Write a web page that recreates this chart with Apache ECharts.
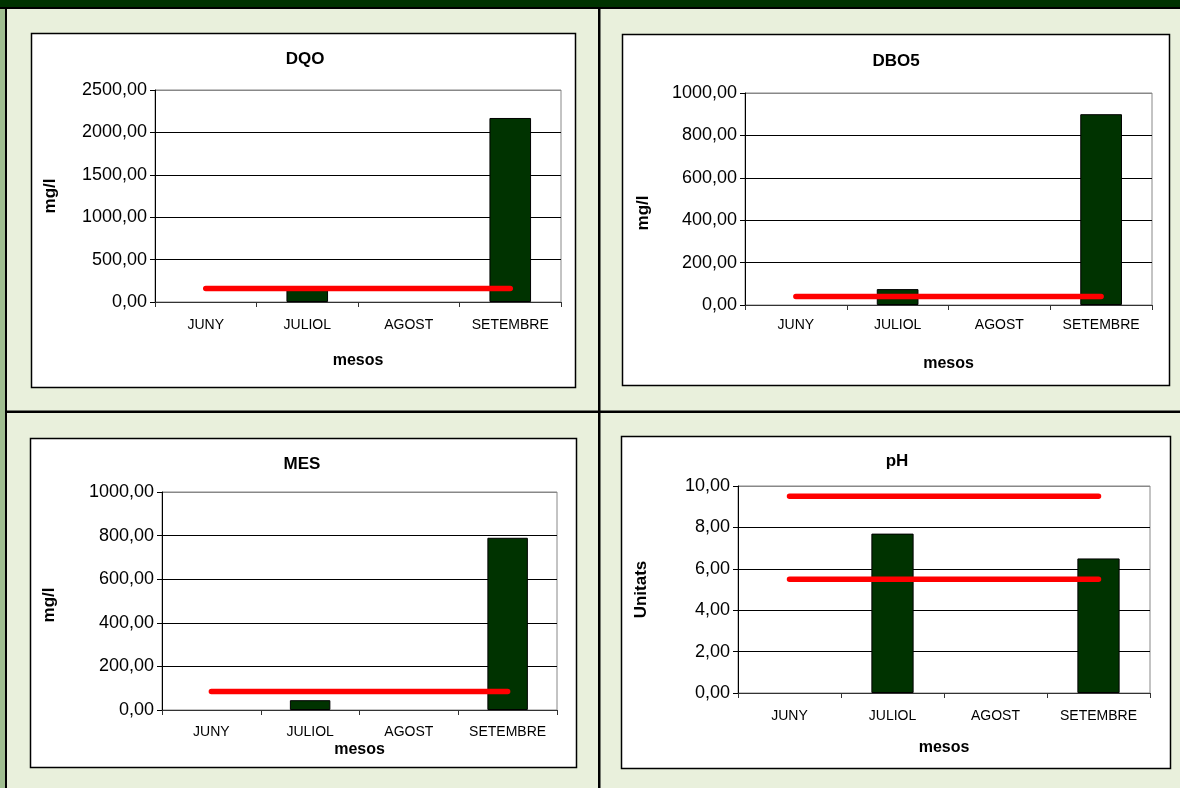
<!DOCTYPE html>
<html>
<head>
<meta charset="utf-8">
<script src="https://cdn.jsdelivr.net/npm/echarts@6/dist/echarts.min.js"></script>
<style>
html,body{margin:0;padding:0;background:#e9f0dc;}
#c{width:1180px;height:788px;}
</style>
</head>
<body>
<div id="c"></div>
<script>
// ---- data ----
const categories = ['JUNY', 'JULIOL', 'AGOST', 'SETEMBRE'];
const titles = ['DQO', 'DBO5', 'MES', 'pH'];
const yNames = ['mg/l', 'mg/l', 'mg/l', 'Unitats'];
const xName = 'mesos';
const dqoValues = [null, 140, null, 2170];
const dqoLimit = [160, 160, 160, 160];
const dbo5Values = [null, 75, null, 900];
const dbo5Limit = [40, 40, 40, 40];
const mesValues = [null, 45, null, 790];
const mesLimit = [85, 85, 85, 85];
const phValues = [null, 7.7, null, 6.5];
const phLimitHigh = [9.5, 9.5, 9.5, 9.5];
const phLimitLow = [5.5, 5.5, 5.5, 5.5];
const yMax = [2500, 1000, 1000, 10];
const yStep = [500, 200, 200, 2];

// ---- layout ----
const FONT = '"Liberation Sans", Arial, sans-serif';
const grids = [
  {left: 155, top: 90, width: 406, height: 212},
  {left: 745, top: 93, width: 407, height: 212},
  {left: 162, top: 492, width: 395, height: 218},
  {left: 738, top: 486, width: 412, height: 207}
];
const boxes = [
  [31, 33, 575, 387],
  [622, 34, 1169, 385],
  [30, 438, 576, 767],
  [621, 436, 1170, 768]
];
const titlePos = [[300, 46], [891, 48], [297, 451], [892, 448]];
const labelMargin = [16, 13, 15, 16];
const nameGapX = [51, 51, 32, 47];
const nameGapY = [96, 93, 104, 88];
const nameShiftY = [0, 28, 8, 0];

const chart = echarts.init(document.getElementById('c'), null, {renderer: 'canvas'});

const graphic = [
  {type: 'rect', shape: {x: 0, y: 0, width: 1180, height: 788}, style: {fill: '#e9f0dc'}, z: -10},
  {type: 'rect', shape: {x: 0, y: 0, width: 5, height: 788}, style: {fill: '#9fbd8f'}, z: -9},
  {type: 'rect', shape: {x: 5, y: 0, width: 2, height: 788}, style: {fill: '#000'}, z: -9},
  {type: 'rect', shape: {x: 0, y: 0, width: 1180, height: 7}, style: {fill: '#003300'}, z: -9},
  {type: 'rect', shape: {x: 0, y: 7, width: 1180, height: 2}, style: {fill: '#000'}, z: -9},
  {type: 'rect', shape: {x: 598, y: 8, width: 2.5, height: 780}, style: {fill: '#000'}, z: -9},
  {type: 'rect', shape: {x: 5, y: 410.5, width: 1175, height: 2.5}, style: {fill: '#000'}, z: -9}
];
boxes.forEach(b => {
  graphic.push({type: 'rect', shape: {x: b[0] + 0.5, y: b[1] + 0.5, width: b[2] - b[0], height: b[3] - b[1]},
    style: {fill: '#fff', stroke: '#000', lineWidth: 1.5}, z: -8});
});

const fmt = v => v.toFixed(2).replace('.', ',');

const option = {
  animation: false,
  backgroundColor: '#e9f0dc',
  graphic: graphic,
  title: titles.map((t, i) => ({
    text: t, left: titlePos[i][0], top: titlePos[i][1], textAlign: 'center',
    textStyle: {fontFamily: FONT, fontSize: 17, fontWeight: 'bold', color: '#000'}
  })),
  grid: grids.map(g => Object.assign({show: true, backgroundColor: '#fff', borderColor: '#888', borderWidth: 1, containLabel: false}, g)),
  xAxis: grids.map((g, i) => ({
    type: 'category', gridIndex: i, data: categories,
    name: xName, nameLocation: 'middle', nameGap: nameGapX[i],
    nameTextStyle: {fontFamily: FONT, fontSize: 16, fontWeight: 'bold', color: '#000'},
    axisLine: {show: true, lineStyle: {color: '#333', width: 1}},
    axisTick: {show: true, length: 5, lineStyle: {color: '#333'}},
    axisLabel: {fontFamily: FONT, fontSize: 14, color: '#000', margin: labelMargin[i], interval: 0},
    splitLine: {show: false}
  })),
  yAxis: grids.map((g, i) => ({
    type: 'value', gridIndex: i, min: 0, max: yMax[i], interval: yStep[i],
    name: yNames[i], nameLocation: 'middle', nameGap: nameGapY[i], nameRotate: 90,
    nameTextStyle: {fontFamily: FONT, fontSize: 17, fontWeight: 'bold', color: '#000',
      padding: [0, nameShiftY[i], 0, 0]},
    axisLine: {show: true, lineStyle: {color: '#000', width: 1}},
    axisTick: {show: true, length: 5, lineStyle: {color: '#000'}},
    axisLabel: {fontFamily: FONT, fontSize: 18, color: '#000', margin: 8, formatter: fmt},
    splitLine: {show: true, lineStyle: {color: ['#000', '#000', '#000', '#000', '#000', '#888'], width: 1}}
  })),
  series: []
};

const barSets = [dqoValues, dbo5Values, mesValues, phValues];
const lineSets = [[dqoLimit], [dbo5Limit], [mesLimit], [phLimitHigh, phLimitLow]];
barSets.forEach((vals, i) => {
  option.series.push({
    type: 'bar', xAxisIndex: i, yAxisIndex: i, data: vals, barWidth: '41%',
    itemStyle: {color: '#003300', borderColor: '#000', borderWidth: 1}, z: 2
  });
  lineSets[i].forEach(ld => {
    option.series.push({
      type: 'line', xAxisIndex: i, yAxisIndex: i, data: ld, symbol: 'none', z: 3,
      lineStyle: {color: '#ff0000', width: 5.5, cap: 'round'}
    });
  });
});

chart.setOption(option);
</script>
</body>
</html>
